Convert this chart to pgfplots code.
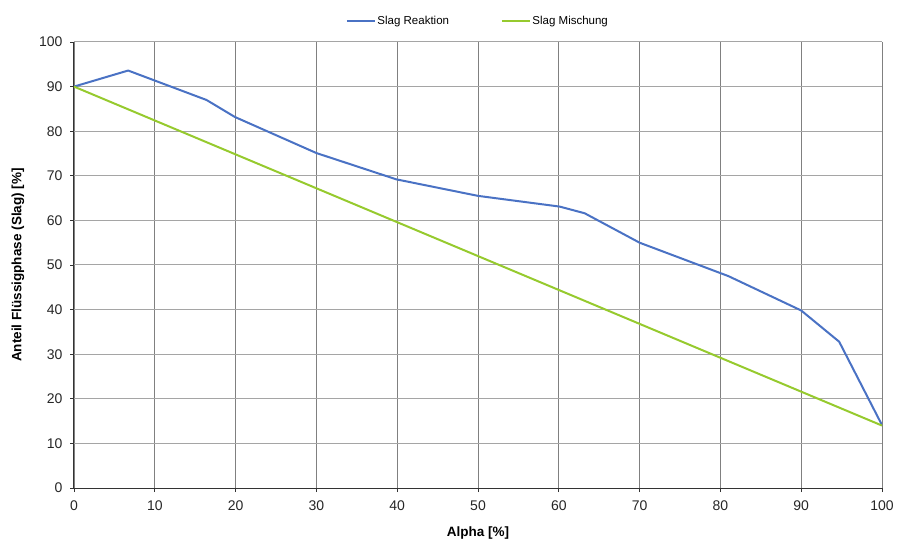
\documentclass[border=0pt]{standalone}
\usepackage{pgfplots}
\pgfplotsset{compat=1.18}
\usepackage{fontspec}
\setmainfont{Liberation Sans}
\definecolor{reaktion}{RGB}{74,114,196}
\definecolor{mischung}{RGB}{150,202,46}
\definecolor{vgrid}{RGB}{128,128,128}
\definecolor{hgrid}{RGB}{165,165,165}
\begin{document}
\begin{tikzpicture}
\path[use as bounding box] (-74pt,-53pt) rectangle (823pt,488pt);
\begin{axis}[
  scale only axis,
  width=808pt, height=446pt,
  xmin=0, xmax=100, ymin=0, ymax=100,
  xtick={0,10,...,100}, ytick={0,10,...,100},
  grid=major,
  x grid style={draw=vgrid, line width=0.9pt},
  y grid style={draw=hgrid, line width=1pt},
  axis line style={draw=hgrid, line width=1pt},
  x axis line style={draw=black!80},
  y axis line style={draw=black!80},
  axis x line*=bottom, axis y line*=left,
  tick style={draw=black!80, line width=0.9pt},
  tick align=outside,
  major tick length=4pt,
  ticklabel style={font=\fontsize{14}{17}\selectfont, text=black!85},
  xticklabel style={yshift=-5pt},
  yticklabel style={xshift=-4pt},
  /pgf/number format/assume math mode=true,
  xlabel={\textbf{Alpha [\%]}},
  ylabel={\textbf{Anteil Flüssigphase (Slag) [\%]}},
  label style={font=\fontsize{13.5}{16}\selectfont},
  xlabel style={at={(rel axis cs:0.5,0)}, anchor=center, yshift=-45pt},
  ylabel style={at={(rel axis cs:0,0.5)}, anchor=center, yshift=56pt},
  legend columns=2,
  legend style={at={(0.5,1.0)}, anchor=south, yshift=12pt, draw=none, fill=none,
    font=\fontsize{11.5}{14}\selectfont,
    /tikz/every even column/.append style={column sep=50pt}},
  legend image code/.code={\draw[#1, line width=1.4pt] (0pt,0pt) -- (28pt,0pt);},
]
\addplot[reaktion, line width=2pt, line join=round] coordinates {
  (0,90) (6.7,93.6) (16.4,87.0) (19.9,83.2) (30,75.1) (39.9,69.2)
  (50,65.5) (60.1,63.1) (63.2,61.6) (70,55.0) (81,47.5) (90,39.8)
  (94.7,32.8) (100,14.1)
};
\addlegendentry{Slag Reaktion}
\addplot[mischung, line width=2pt] coordinates {
  (0,90) (100,14)
};
\addlegendentry{Slag Mischung}
\end{axis}
\end{tikzpicture}
\end{document}
